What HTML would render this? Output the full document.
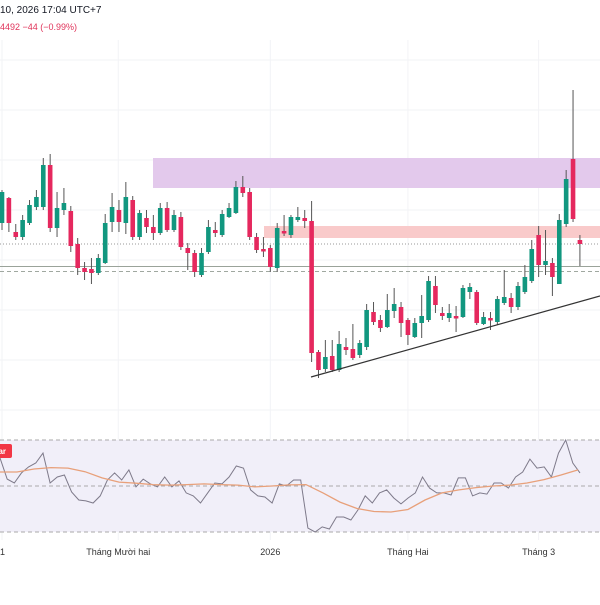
<!DOCTYPE html>
<html><head><meta charset="utf-8"><style>
html,body{margin:0;padding:0;background:#fff;}
body{width:600px;height:600px;overflow:hidden;font-family:"Liberation Sans",sans-serif;}
svg text{font-family:"Liberation Sans",sans-serif;}
</style></head><body>
<svg id="chart" width="600" height="600" viewBox="0 0 600 600" xmlns="http://www.w3.org/2000/svg">
<rect x="0" y="0" width="600" height="600" fill="#ffffff"/>
<text x="0" y="13" font-size="10" fill="#131722">10, 2026 17:04 UTC+7</text>
<text x="0" y="30" font-size="9" fill="#e0335a">4492  −44 (−0.99%)</text>
<g id="grid"></g>
<rect x="153" y="158" width="447" height="30" fill="#e3c9ec"/>
<rect x="264" y="226" width="336" height="12" fill="#f9caca"/>
<line x1="0" y1="244" x2="600" y2="244" stroke="#999" stroke-width="1" stroke-dasharray="1,2"/>
<line x1="0" y1="266.5" x2="600" y2="266.5" stroke="#9aa39a" stroke-width="1"/>
<line x1="0" y1="271.5" x2="600" y2="271.5" stroke="#a0a8a0" stroke-width="1" stroke-dasharray="4,3"/>
<g id="candles"></g>
<line x1="311" y1="377" x2="600" y2="296" stroke="#333" stroke-width="1.2"/>
<rect x="0" y="440" width="600" height="92" fill="#f1eff9"/>
<line x1="0" y1="440" x2="600" y2="440" stroke="#aaa" stroke-dasharray="4,3"/>
<line x1="0" y1="486" x2="600" y2="486" stroke="#aaa" stroke-dasharray="4,3"/>
<line x1="0" y1="532" x2="600" y2="532" stroke="#aaa" stroke-dasharray="4,3"/>
<g id="rsi"></g>
<rect x="-4" y="444" width="16" height="14" rx="2" fill="#f23645"/>
<text x="-6" y="454" font-size="8" fill="#fff" font-weight="bold">ear</text>
<g id="xaxis"></g>
</svg>
<script>
// candle data (price units)
const opens  = [777,802,768,763,777,793,793,835,772,790,789,756,732,731,727,737,778,790,777,800,763,782,773,767,792,770,783,752,747,725,748,770,765,783,787,813,808,763,751,752,732,769,765,780,782,779,648,631,644,630,653,651,645,653,688,680,673,689,693,680,663,677,680,714,687,682,684,683,708,708,676,682,678,697,702,693,708,719,765,735,737,716,776,841,760];
const closes = [808,777,763,780,795,803,835,772,792,797,754,732,728,727,742,777,793,778,803,763,787,773,767,792,770,785,753,747,728,747,773,767,786,792,813,807,763,750,750,733,772,767,783,783,779,647,630,643,630,656,650,642,657,690,678,672,690,696,677,665,677,684,719,695,684,687,682,712,713,677,683,680,701,703,693,714,723,751,735,739,723,780,821,781,756];
const highs  = [810,803,776,785,800,810,842,846,808,812,794,762,738,742,746,786,807,800,818,804,790,790,785,797,798,790,788,757,750,752,780,778,790,797,819,824,812,767,763,755,777,785,785,793,790,799,650,660,660,669,662,676,660,696,698,685,706,712,698,682,682,705,724,724,693,696,694,715,717,710,688,688,704,730,707,718,735,760,774,770,742,786,830,910,765];
const lows   = [770,768,760,760,775,790,790,768,763,785,748,725,720,716,725,736,768,768,766,760,760,767,760,765,768,768,750,730,723,723,746,763,763,782,786,803,760,747,743,728,728,764,762,778,772,638,622,628,628,628,645,640,642,650,675,668,672,682,663,655,662,662,678,687,680,678,668,682,701,675,675,670,675,695,687,690,706,717,723,725,704,716,773,778,734];
// RSI values (0-100) and its moving average
const rsiValues = [62.2,53,51.3,55.7,58.3,60,64.3,51.3,53.9,54.8,47.4,43.9,43.5,42.6,45.7,52.6,55.7,52.6,57,49.6,53,50.9,49.6,53.9,49.6,52.2,47,45.7,42.6,47,51.3,50.9,53.9,58.7,57.8,48.3,45.7,45.2,42.6,50.9,50,52.6,52.6,31.7,30,32.2,31.3,36.5,36.5,35.2,39.6,45.7,42.6,47,48.3,44.8,42.2,44.8,47,53.9,49.1,47,47,46.1,53.5,53.5,45.7,47,46.5,51.3,51.3,49.1,53.9,56.1,61.7,57.8,58.3,53.9,64.3,70,60,55.7];
const rsiMaValues = [56.1,56.1,57.4,58,57.8,56.2,53.5,51.7,51.2,50.6,50.4,50.6,50.9,50.6,50.4,49.6,50,50.5,50.6,47,43,40.2,38.9,38.7,39.8,43.9,47,48.3,49.3,50,50.4,51.3,52.8,54.8,57];
const xLabels = ["1","Tháng Mười hai","2026","Tháng Hai","Tháng 3"];
const xLabelPos = [0,16.9,39,59,78]; // candle index positions for labels

const NS="http://www.w3.org/2000/svg";
function mk(tag,attrs,parent){const e=document.createElementNS(NS,tag);for(const k in attrs)e.setAttribute(k,attrs[k]);parent.appendChild(e);return e;}
const step=6.88;
function xScale(i){return 2+i*step;}
function yScale(p){return 1000-p;}
function rsiY(v){return 486-(v-50)*2.3;}

const grid=document.getElementById('grid');
[60,110,160,210,260,310,360,410].forEach(y=>{const l=mk('line',{x1:0,y1:y,x2:600,y2:y,stroke:'#f2f3f6'},grid);

});
xLabelPos.forEach(i=>{const l=mk('line',{x1:xScale(i),y1:40,x2:xScale(i),y2:540,stroke:'#f2f3f6'},grid);

});

const cg=document.getElementById('candles');
const n=Math.min(opens.length,closes.length,highs.length,lows.length);
for(let i=0;i<n;i++){
  const up=closes[i]>=opens[i];
  const col=up?'#11977f':'#e5285e';
  const x=xScale(i);
  const w=mk('line',{x1:x,y1:yScale(highs[i]),x2:x,y2:yScale(lows[i]),stroke:'#555',"stroke-width":1},cg);
  
  
  const top=yScale(Math.max(opens[i],closes[i])),bot=yScale(Math.min(opens[i],closes[i]));
  const b=mk('rect',{x:x-2.3,y:top,width:4.6,height:Math.max(2.5,bot-top),fill:col},cg);
  
  
}

const rg=document.getElementById('rsi');
let d='';rsiValues.forEach((v,i)=>{const x=i*(580/(rsiValues.length-1));d+=(i?'L':'M')+x.toFixed(1)+','+rsiY(v).toFixed(1);});
const rl=mk('path',{d:d,fill:'none',stroke:'#7e7a8a',"stroke-width":1},rg);


let d2='';rsiMaValues.forEach((v,i)=>{const x=i*(578/(rsiMaValues.length-1));d2+=(i?'L':'M')+x.toFixed(1)+','+rsiY(v).toFixed(1);});
const ml=mk('path',{d:d2,fill:'none',stroke:'#e8a07a',"stroke-width":1.3},rg);



const xg=document.getElementById('xaxis');
xLabels.forEach((t,k)=>{const tx=mk('text',{x:k===0?0:xScale(xLabelPos[k]),y:555,"font-size":9,fill:'#333',"text-anchor":k===0?'start':'middle'},xg);
tx.textContent=t;

});
</script>
</body></html>
